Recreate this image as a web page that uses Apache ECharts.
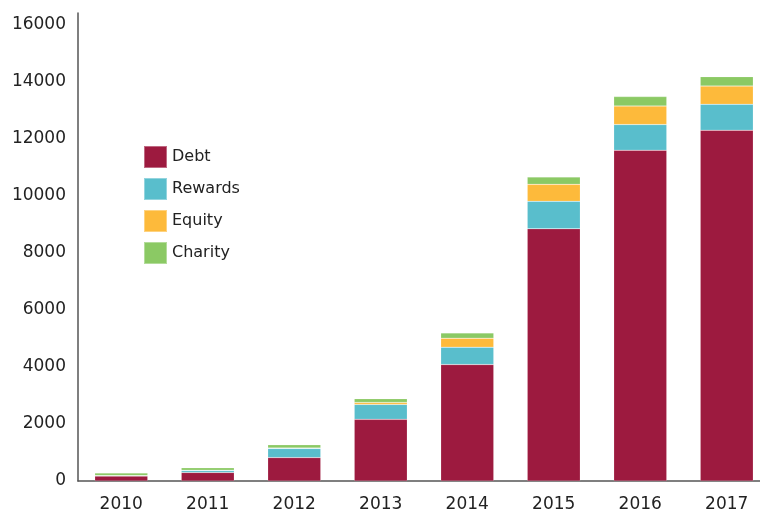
<!DOCTYPE html>
<html>
<head>
<meta charset="utf-8">
<script src="https://cdn.jsdelivr.net/npm/echarts@6/dist/echarts.min.js"></script>
<style>
    html, body { margin: 0; padding: 0; background: #fff; overflow: hidden; }
    #chart { width: 772px; height: 513px; }
</style>
</head>
<body>
<div id="chart"></div>
<script>
// 数据
const years = ['2010', '2011', '2012', '2013', '2014', '2015', '2016', '2017']
const debt = [175, 300, 820, 2160, 4080, 8840, 11590, 12290]
const rewards = [10, 70, 320, 525, 610, 960, 900, 910]
const equity = [5, 10, 20, 70, 315, 595, 650, 640]
const charity = [90, 80, 110, 130, 185, 255, 330, 330]

const colors = ['#9D1A3F', '#59BECC', '#FDBA3B', '#8BC964']

const chart = echarts.init(document.getElementById('chart'))

const makeSeries = (name, data) => ({
    name: name,
    type: 'bar',
    stack: 'total',
    barWidth: 53,
    data: data,
    itemStyle: {
        borderColor: 'rgba(255,255,255,0.35)',
        borderWidth: 0.5
    }
})

const option = {
    animation: false,
    color: colors,
    textStyle: { fontFamily: 'DejaVu Sans' },
    grid: {
        left: 78,
        top: 13,
        width: 692,
        bottom: 30.5,
        containLabel: false
    },
    legend: {
        orient: 'vertical',
        left: 143,
        top: 145,
        padding: 0,
        itemWidth: 23,
        itemHeight: 22,
        itemGap: 8,
        icon: 'rect',
        textStyle: {
            fontSize: 16,
            color: '#222'
        },
        data: ['Debt', 'Rewards', 'Equity', 'Charity']
    },
    xAxis: {
        type: 'category',
        data: years,
        axisLine: { lineStyle: { color: '#555', width: 1.5 } },
        axisTick: { show: false },
        axisLabel: { fontSize: 17, color: '#222', margin: 15 }
    },
    yAxis: {
        type: 'value',
        min: 0,
        max: 16400,
        interval: 2000,
        axisLine: { show: true, lineStyle: { color: '#555', width: 1.5 } },
        axisTick: { show: false },
        splitLine: { show: false },
        axisLabel: {
            fontSize: 17,
            color: '#222',
            margin: 12,
            showMaxLabel: false,
            formatter: v => String(v)
        }
    },
    series: [
        makeSeries('Debt', debt),
        makeSeries('Rewards', rewards),
        makeSeries('Equity', equity),
        makeSeries('Charity', charity)
    ]
}

chart.setOption(option)
</script>
</body>
</html>
